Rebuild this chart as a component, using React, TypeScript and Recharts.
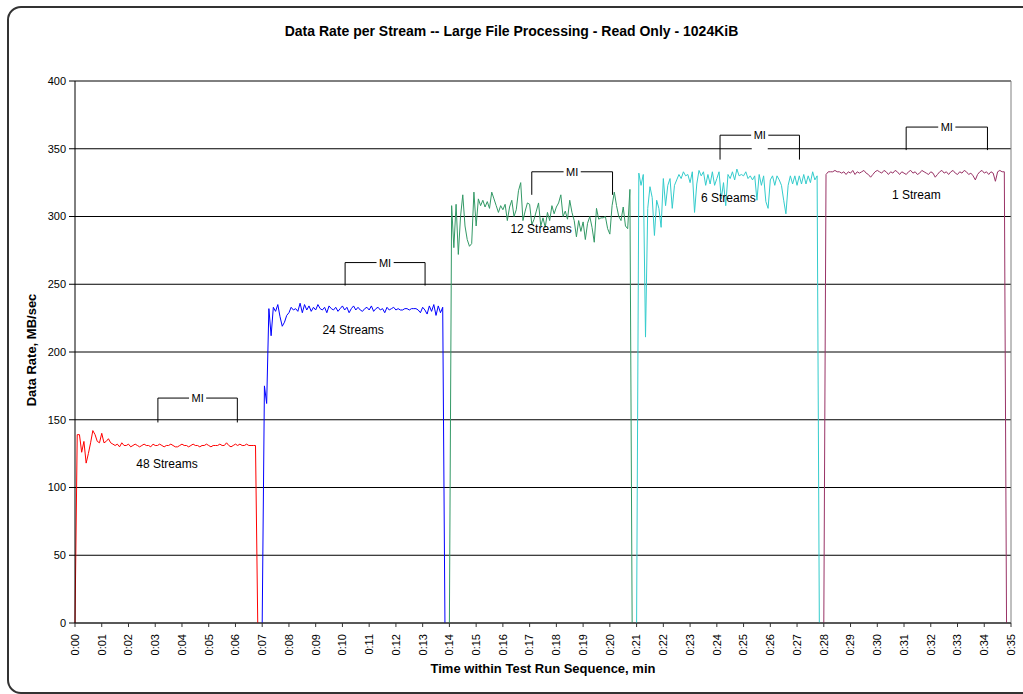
import React from 'react';
import {
  LineChart,
  Line,
  XAxis,
  YAxis,
  CartesianGrid,
  ReferenceLine,
  ReferenceDot,
} from 'recharts';

const FONT = '"Liberation Sans", Arial, Helvetica, sans-serif';

// one sample every 5 seconds, time axis in minutes
const SAMPLE_STEP = 1 / 12;

const seriesNames = ['48 Streams', '24 Streams', '12 Streams', '6 Streams', '1 Stream'];
const seriesColors = ['#FF0000', '#0000FF', '#339966', '#33CCCC', '#993366'];
const seriesStart = [0, 7, 14, 21, 28];

const rate48 = [
  0, 139, 139, 126, 134, 118, 125, 133, 142, 139, 134, 133, 140, 133, 134, 136, 133, 132, 131, 132, 130, 133,
  131, 131, 132, 130, 131, 132, 131, 130, 131, 132, 131, 131, 130, 132, 131, 131, 132, 131, 130, 131,
  131, 132, 131, 130, 130, 131, 132, 131, 131, 130, 131, 132, 131, 131, 130, 131, 131, 132, 131, 130,
  131, 131, 131, 132, 131, 131, 133, 131, 130, 131, 132, 131, 132, 131, 131, 132, 131, 131, 131, 131, 0,
];

const rate24 = [
  0, 175, 162, 232, 212, 233, 230, 235, 226, 219, 222, 227, 229, 233, 231, 232, 230, 236, 229, 235, 231,
  234, 230, 233, 231, 235, 232, 231, 233, 229, 234, 232, 231, 233, 230, 232, 234, 231, 233, 229, 232,
  234, 231, 233, 231, 230, 232, 233, 231, 234, 230, 232, 233, 231, 232, 229, 233, 231, 232, 233, 231,
  232, 231, 231, 232, 232, 231, 232, 232, 232, 231, 229, 233, 231, 228, 234, 230, 235, 227, 234, 229, 233, 0,
];

const rate12 = [
  0, 308, 277, 309, 272, 300, 316, 293, 283, 278, 280, 318, 293, 313, 308, 312, 307, 311, 306, 318, 313,
  308, 303, 308, 305, 309, 297, 307, 312, 300, 305, 319, 325, 297, 304, 310, 309, 294, 298, 304, 310,
  293, 299, 292, 303, 297, 308, 302, 307, 310, 316, 300, 304, 298, 312, 303, 297, 285, 297, 289, 296,
  283, 295, 300, 292, 281, 306, 298, 299, 299, 300, 291, 287, 308, 318, 308, 300, 297, 307, 293, 291, 320, 0,
];

const rate6 = [
  0, 332, 323, 331, 211, 306, 322, 314, 286, 312, 306, 292, 328, 308, 323, 328, 306, 323, 327, 331, 328,
  333, 330, 331, 325, 333, 303, 324, 334, 330, 333, 323, 331, 324, 333, 323, 328, 333, 313, 325, 308,
  331, 328, 333, 327, 335, 330, 331, 330, 333, 328, 330, 327, 330, 312, 331, 323, 330, 311, 306, 327,
  330, 323, 330, 327, 323, 312, 302, 323, 330, 324, 330, 323, 330, 324, 331, 324, 330, 325, 333, 327, 330, 0,
];

const rate1 = [
  0, 331, 333, 333, 333, 334, 333, 333, 332, 333, 331, 333, 332, 334, 331, 333, 332, 333, 334, 332, 331,
  329, 331, 333, 334, 333, 332, 334, 333, 331, 333, 332, 334, 333, 331, 333, 332, 331, 333, 334, 332,
  333, 331, 332, 334, 333, 332, 331, 333, 332, 329, 331, 333, 334, 332, 333, 331, 333, 334, 332, 331,
  333, 332, 334, 333, 331, 332, 330, 327, 331, 333, 334, 332, 333, 331, 333, 332, 326, 333, 334, 333, 333, 0,
];

const seriesValues = [rate48, rate24, rate12, rate6, rate1];

const xTicks = [
  0, 1, 2, 3, 4, 5, 6, 7, 8, 9, 10, 11, 12, 13, 14, 15, 16, 17, 18, 19, 20, 21, 22, 23, 24, 25, 26, 27, 28,
  29, 30, 31, 32, 33, 34, 35,
];
const yTicks = [0, 50, 100, 150, 200, 250, 300, 350, 400];

// "MI" brackets (measurement interval), in minutes / MB/sec
const miFrom = [3.1, 10.1, 17.08, 24.12, 31.08];
const miTo = [6.07, 13.09, 20.1, 27.09, 34.12];
const miTop = [166, 266, 333, 360, 366];
const miBottom = [148, 249, 316, 342, 349];

// where the stream-count notes sit
const noteT = [3.44, 10.4, 17.43, 24.43, 31.46];
const noteV = [117.5, 216, 290.5, 314, 316];

const series = seriesValues.map((vals, s) =>
  vals.map((v, i) => ({ t: seriesStart[s] + i * SAMPLE_STEP, v })),
);

const fmtTime = (m: number) => `0:${String(m).padStart(2, '0')}`;

const TimeTick = (props: any) => {
  const { x, y, payload } = props;
  return (
    <g transform={`translate(${x},${y + 5})`}>
      <text
        transform="rotate(-90)"
        textAnchor="end"
        dy="0.35em"
        fontSize={11}
        fontFamily={FONT}
        fill="#000"
      >
        {fmtTime(payload.value)}
      </text>
    </g>
  );
};

const MiMark = (props: any) => {
  const { cx, cy } = props;
  return (
    <g>
      <rect x={cx - 8} y={cy - 9} width={16} height={24} fill="#fff" />
      <text
        x={cx}
        y={cy}
        textAnchor="middle"
        dominantBaseline="central"
        fontSize={11}
        fontFamily={FONT}
        fill="#000"
      >
        MI
      </text>
    </g>
  );
};

const makeNote = (label: string) => (props: any) => (
  <text
    x={props.cx}
    y={props.cy}
    textAnchor="middle"
    dominantBaseline="central"
    fontSize={12}
    fontFamily={FONT}
    fill="#000"
  >
    {label}
  </text>
);

const GAP = 0.32;

export default function App() {
  return (
    <div
      style={{
        position: 'absolute',
        left: 0,
        top: 0,
        width: 1023,
        height: 694,
        overflow: 'hidden',
        background: '#fff',
        fontFamily: FONT,
      }}
    >
      <div
        style={{
          position: 'absolute',
          left: 7,
          top: 6,
          width: 1060,
          height: 684,
          border: '2px solid #333',
          borderRadius: 14,
        }}
      />
      <div
        style={{
          position: 'absolute',
          left: 0,
          top: 23,
          width: 1023,
          textAlign: 'center',
          fontSize: 14,
          fontWeight: 'bold',
          lineHeight: '17px',
        }}
      >
        Data Rate per Stream -- Large File Processing - Read Only - 1024KiB
      </div>
      <div
        style={{
          position: 'absolute',
          left: 75,
          width: 936,
          top: 661,
          textAlign: 'center',
          fontSize: 13,
          fontWeight: 'bold',
          lineHeight: '16px',
        }}
      >
        Time within Test Run Sequence, min
      </div>
      <div style={{ position: 'absolute', left: 32, top: 350, width: 0, height: 0 }}>
        <div
          style={{
            position: 'absolute',
            left: 0,
            top: 0,
            transform: 'translate(-50%, -50%) rotate(-90deg)',
            whiteSpace: 'nowrap',
            fontSize: 13,
            fontWeight: 'bold',
            lineHeight: '16px',
          }}
        >
          Data Rate, MB/sec
        </div>
      </div>
      <div style={{ position: 'absolute', left: 0, top: 0 }}>
        <LineChart width={1023} height={694} margin={{ top: 81, right: 12, bottom: 0, left: 0 }}>
          <CartesianGrid vertical={false} stroke="#000" />
          <XAxis
            type="number"
            dataKey="t"
            domain={[0, 35]}
            ticks={xTicks}
            interval={0}
            height={71}
            tickSize={4}
            tick={<TimeTick />}
            axisLine={{ stroke: '#333' }}
            tickLine={{ stroke: '#333' }}
            allowDuplicatedCategory={false}
          />
          <YAxis
            type="number"
            domain={[0, 400]}
            ticks={yTicks}
            width={75}
            tickSize={6}
            tickMargin={3}
            tick={{ fontSize: 11, fill: '#000', fontFamily: FONT }}
            axisLine={{ stroke: '#000' }}
            tickLine={{ stroke: '#000' }}
          />
          <ReferenceLine y={400} stroke="#808080" />
          <ReferenceLine x={35} stroke="#808080" />
          {series.map((d, s) => (
            <Line
              key={seriesNames[s]}
              data={d}
              dataKey="v"
              name={seriesNames[s]}
              type="linear"
              stroke={seriesColors[s]}
              strokeWidth={1}
              dot={false}
              isAnimationActive={false}
            />
          ))}
          {miFrom.map((from, i) => {
            const to = miTo[i];
            const mid = (from + to) / 2;
            return (
              <React.Fragment key={`mi${i}`}>
                <ReferenceLine
                  segment={[{ x: from, y: miBottom[i] }, { x: from, y: miTop[i] }]}
                  stroke="#000"
                />
                <ReferenceLine
                  segment={[{ x: from, y: miTop[i] }, { x: mid - GAP, y: miTop[i] }]}
                  stroke="#000"
                />
                <ReferenceLine
                  segment={[{ x: mid + GAP, y: miTop[i] }, { x: to, y: miTop[i] }]}
                  stroke="#000"
                />
                <ReferenceLine
                  segment={[{ x: to, y: miTop[i] }, { x: to, y: miBottom[i] }]}
                  stroke="#000"
                />
                <ReferenceDot x={mid} y={miTop[i]} r={6} shape={MiMark} />
              </React.Fragment>
            );
          })}
          {seriesNames.map((name, i) => (
            <ReferenceDot key={`note${i}`} x={noteT[i]} y={noteV[i]} r={6} shape={makeNote(name)} />
          ))}
        </LineChart>
      </div>
    </div>
  );
}
